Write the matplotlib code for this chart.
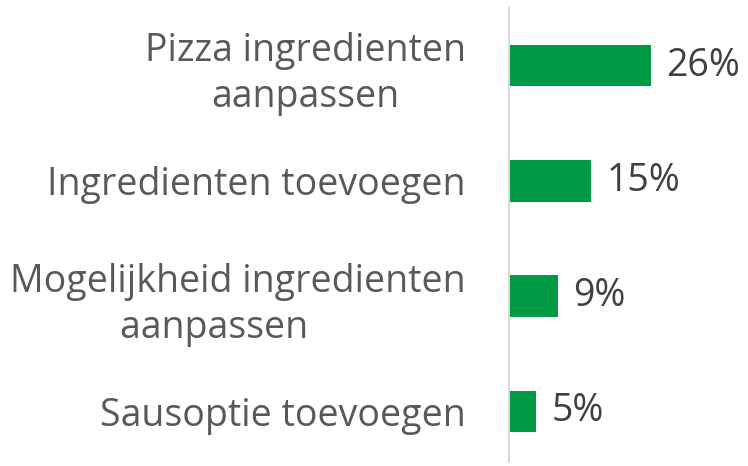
import matplotlib.pyplot as plt

categories = ["Pizza ingredienten\naanpassen", "Ingredienten toevoegen",
              "Mogelijkheid ingredienten\naanpassen     ", "Sausoptie toevoegen"]
values = [26, 15, 9, 5]
value_labels = ["26%", "15%", "9%", "5%"]

plt.rcParams['font.family'] = ['Open Sans', 'DejaVu Sans']

fig = plt.figure(figsize=(7.48, 4.66), dpi=100)
ax = fig.add_axes([509 / 748, 1 - 462 / 466, 1 - 509 / 748, 454 / 466])

pos = list(range(len(categories)))
ax.barh(pos, values, height=0.36, color='#009A44')
ax.set_ylim(3.44, -0.5)
ax.set_xlim(0, 43.8)

for p, v, lab in zip(pos, values, value_labels):
    ax.text(v + 2.8, p, lab, va='center', ha='left', fontsize=27, color='#404040')

ax.set_yticks(pos)
ax.set_yticklabels(categories, fontsize=27, color='#595959', linespacing=1.28,
                   multialignment='center')
ax.tick_params(axis='y', length=0, pad=31)
ax.set_xticks([])
for s in ['top', 'right', 'bottom']:
    ax.spines[s].set_visible(False)
ax.spines['left'].set_color('#D9D9D9')
ax.spines['left'].set_linewidth(1.5)

fig.savefig('out.png', dpi=100)
